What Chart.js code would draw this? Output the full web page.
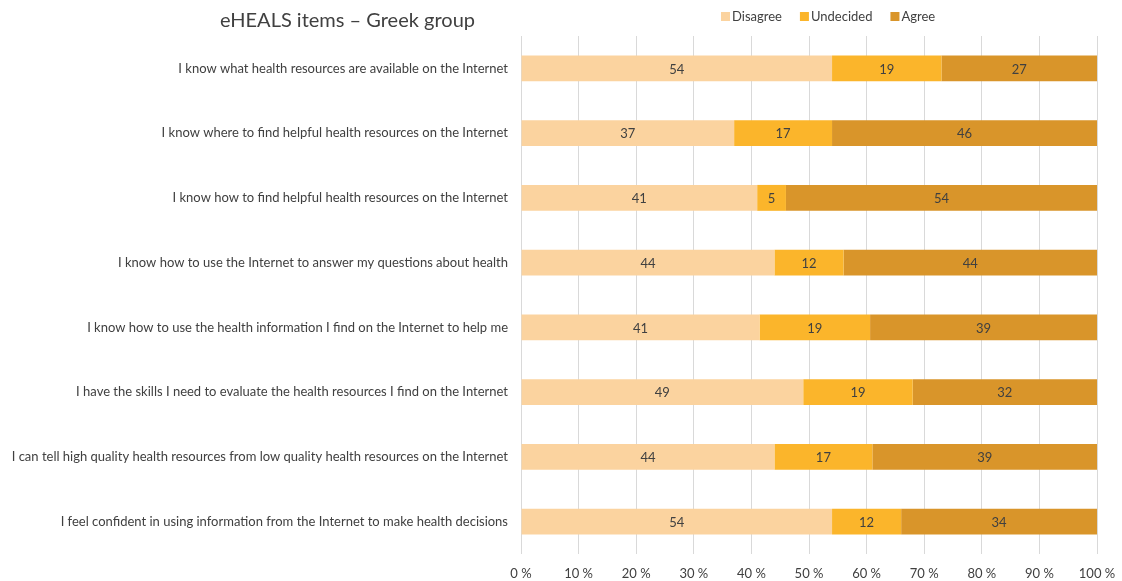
<!DOCTYPE html>
<html>
<head>
<meta charset="utf-8">
<script src="https://cdn.jsdelivr.net/npm/chart.js@4.4.1/dist/chart.umd.min.js"></script>
<style>
    html, body { margin: 0; padding: 0; background: #fff; }
    #box { width: 1122px; height: 581px; }
</style>
</head>
<body>
<div id="box"><canvas id="grafico"></canvas></div>
<script>
const itens = [
    'I know what health resources are available on the Internet',
    'I know where to find helpful health resources on the Internet',
    'I know how to find helpful health resources on the Internet',
    'I know how to use the Internet to answer my questions about health',
    'I know how to use the health information I find on the Internet to help me',
    'I have the skills I need to evaluate the health resources I find on the Internet',
    'I can tell high quality health resources from low quality health resources on the Internet',
    'I feel confident in using information from the Internet to make health decisions'
];
const discordo = [54, 37, 41, 44, 41, 49, 44, 54];
const indeciso = [19, 17, 5, 12, 19, 19, 17, 12];
const concordo = [27, 46, 54, 44, 39, 32, 39, 34];
const series = ['Disagree', 'Undecided', 'Agree'];
const cores = ['#fbd39f', '#fbb52b', '#d9952a'];
const titulo = 'eHEALS items \u2013 Greek group';

const fonte = "Lato, 'Open Sans', sans-serif";
const corTexto = '#404040';

// cada barra soma 100 %, os rótulos mostram o valor original
function paraPercentual(valores) {
    return valores.map((v, i) => v / (discordo[i] + indeciso[i] + concordo[i]) * 100);
}

const brutos = [discordo, indeciso, concordo];

// título e legenda na mesma linha, acima da área do gráfico
const cabecalho = {
    id: 'cabecalho',
    afterDraw(chart) {
        const ctx = chart.ctx;
        ctx.save();
        ctx.fillStyle = corTexto;
        ctx.font = '20px ' + fonte;
        ctx.textBaseline = 'middle';
        ctx.textAlign = 'left';
        ctx.fillText(titulo, 220, 21);

        ctx.font = '13px ' + fonte;
        let x = 721;
        series.forEach((nome, i) => {
            ctx.fillStyle = cores[i];
            ctx.fillRect(x, 12, 9, 9);
            ctx.fillStyle = corTexto;
            ctx.fillText(nome, x + 11, 17);
            x += 11 + ctx.measureText(nome).width + 18;
        });
        ctx.restore();
    }
};

// valores escritos no meio de cada segmento
const rotulos = {
    id: 'rotulos',
    afterDatasetsDraw(chart) {
        const ctx = chart.ctx;
        ctx.save();
        ctx.font = '13px ' + fonte;
        ctx.fillStyle = corTexto;
        ctx.textAlign = 'center';
        ctx.textBaseline = 'middle';
        chart.data.datasets.forEach((ds, d) => {
            chart.getDatasetMeta(d).data.forEach((bar, i) => {
                const meio = (bar.x + bar.base) / 2;
                ctx.fillText(brutos[d][i], meio, bar.y + 1);
            });
        });
        ctx.restore();
    }
};

new Chart(document.getElementById('grafico').getContext('2d'), {
    type: 'bar',
    data: {
        labels: itens,
        datasets: series.map((nome, i) => ({
            label: nome,
            data: paraPercentual(brutos[i]),
            backgroundColor: cores[i],
            borderWidth: 0,
            barPercentage: 0.4,
            categoryPercentage: 1
        }))
    },
    options: {
        indexAxis: 'y',
        responsive: true,
        maintainAspectRatio: false,
        animation: false,
        layout: {
            padding: { left: 0, right: 25, top: 36, bottom: 0 }
        },
        plugins: {
            legend: { display: false },
            tooltip: { enabled: false }
        },
        scales: {
            x: {
                stacked: true,
                min: 0,
                max: 100,
                border: { display: false },
                grid: { color: '#d9d9d9', drawTicks: false },
                ticks: {
                    stepSize: 10,
                    padding: 12,
                    color: corTexto,
                    font: { family: fonte, size: 13 },
                    callback: v => v + ' %'
                },
                afterFit: s => {
                    s.height = 27;
                    s.paddingLeft = 0;
                    s.paddingRight = 0;
                }
            },
            y: {
                stacked: true,
                border: { display: false },
                grid: { display: false, drawTicks: false },
                ticks: {
                    padding: 13,
                    autoSkip: false,
                    color: corTexto,
                    font: { family: fonte, size: 13 }
                },
                afterFit: s => { s.width = 521; }
            }
        }
    },
    plugins: [cabecalho, rotulos]
});
</script>
</body>
</html>
